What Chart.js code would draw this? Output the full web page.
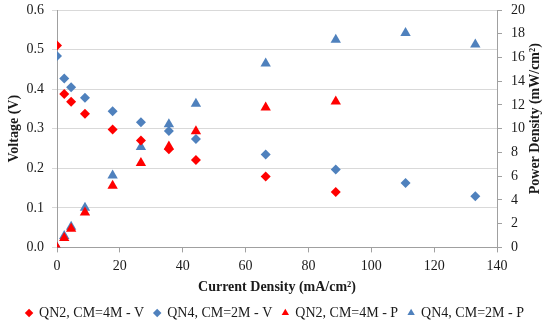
<!DOCTYPE html>
<html>
<head>
<meta charset="utf-8">
<script src="https://cdn.jsdelivr.net/npm/chart.js@4/dist/chart.umd.min.js"></script>
<style>
  html, body { margin: 0; padding: 0; background: #fff; }
  #wrap { width: 550px; height: 324px; }
</style>
</head>
<body>
<div id="wrap"><canvas id="chart" width="550" height="324"></canvas></div>
<script>
// Current density (mA/cm2) for each sample
const currentQN2 = [0, 2.3, 4.5, 8.9, 17.7, 26.7, 35.6, 44.2, 66.4, 88.7];
const currentQN4 = [0, 2.3, 4.5, 8.9, 17.7, 26.7, 35.6, 44.2, 66.4, 88.7, 110.9, 133.1];

// Voltage (V)
const voltQN2 = [0.51, 0.388, 0.368, 0.338, 0.298, 0.27, 0.248, 0.221, 0.179, 0.14];
const voltQN4 = [0.484, 0.427, 0.405, 0.378, 0.344, 0.316, 0.294, 0.274, 0.235, 0.197, 0.163, 0.129];

// Power density (mW/cm2)
const powerQN2 = [0, 0.8, 1.58, 2.93, 5.2, 7.1, 8.5, 9.78, 11.78, 12.3];
const powerQN4 = [0, 0.96, 1.75, 3.33, 6.06, 8.45, 10.37, 12.1, 15.5, 17.5, 18.06, 17.1];

const labels = ["QN2, CM=4M - V", "QN4, CM=2M - V", "QN2, CM=4M - P", "QN4, CM=2M - P"];

const RED = "#ff0000";
const BLUE = "#4f81bd";
const TEXT = "#1a1a1a";
const FONT = "'Liberation Serif', 'Times New Roman', serif";

function pts(xs, ys) {
  return xs.map((x, i) => ({ x: x, y: ys[i] }));
}

function series(label, data, color, shape, axis, r) {
  return {
    label: label,
    data: data,
    yAxisID: axis,
    showLine: false,
    pointStyle: shape,
    pointRadius: r,
    pointHoverRadius: r,
    backgroundColor: color,
    borderColor: color,
    borderWidth: 0,
  };
}

// right axis title, reading bottom to top like the left one
const rightTitle = {
  id: "rightTitle",
  afterDraw(chart) {
    const c = chart.ctx;
    const s = chart.scales.y2;
    c.save();
    c.translate(535, (s.top + s.bottom) / 2 - 10);
    c.rotate(-Math.PI / 2);
    c.fillStyle = TEXT;
    c.font = "bold 14px " + FONT;
    c.textAlign = "center";
    c.textBaseline = "middle";
    c.fillText("Power Density (mW/cm²)", 0, 0);
    c.restore();
  },
};

const ctx = document.getElementById("chart").getContext("2d");

new Chart(ctx, {
  type: "scatter",
  data: {
    datasets: [
      series(labels[0], pts(currentQN2, voltQN2), RED, "rectRot", "y", 5),
      series(labels[1], pts(currentQN4, voltQN4), BLUE, "rectRot", "y", 5),
      series(labels[2], pts(currentQN2, powerQN2), RED, "triangle", "y2", 6),
      series(labels[3], pts(currentQN4, powerQN4), BLUE, "triangle", "y2", 6),
    ],
  },
  plugins: [rightTitle],
  options: {
    responsive: false,
    animation: false,
    layout: { padding: { top: 10, left: 0, right: 0, bottom: -6 } },
    plugins: {
      tooltip: { enabled: false },
      legend: {
        position: "bottom",
        labels: {
          usePointStyle: true,
          boxWidth: 6,
          boxHeight: 6,
          padding: 10,
          color: TEXT,
          font: { family: FONT, size: 14 },
        },
      },
    },
    scales: {
      x: {
        type: "linear",
        min: 0,
        max: 140,
        ticks: { stepSize: 20, color: TEXT, font: { family: FONT, size: 14 }, padding: 6 },
        grid: { drawOnChartArea: false, drawTicks: true, tickLength: 5, color: "#a0a0a0" },
        border: { color: "#a0a0a0" },
        title: {
          display: true,
          text: "Current Density (mA/cm²)",
          color: TEXT,
          font: { family: FONT, size: 14, weight: "bold" },
          padding: { top: 3, bottom: 0 },
        },
        afterFit: (s) => { s.height -= 5; },
      },
      y: {
        position: "left",
        min: 0,
        max: 0.6,
        ticks: {
          stepSize: 0.1,
          color: TEXT,
          padding: 8,
          font: { family: FONT, size: 14 },
          callback: (v) => v.toFixed(1),
        },
        grid: { color: "#d9d9d9", drawTicks: true, tickLength: 5 },
        border: { color: "#a0a0a0" },
        title: {
          display: true,
          text: "Voltage (V)",
          color: TEXT,
          font: { family: FONT, size: 14, weight: "bold" },
          padding: { top: 6, bottom: 0 },
        },
        afterFit: (s) => { s.width = 57; s.paddingTop = 0; s.paddingBottom = 0; },
      },
      y2: {
        position: "right",
        min: 0,
        max: 20,
        ticks: { stepSize: 2, color: TEXT, padding: 9, font: { family: FONT, size: 14 } },
        grid: { drawOnChartArea: false, drawTicks: true, tickLength: 5, color: "#a0a0a0" },
        border: { color: "#a0a0a0" },
        afterFit: (s) => { s.width = 53; s.paddingTop = 0; s.paddingBottom = 0; },
      },
    },
  },
});
</script>
</body>
</html>
